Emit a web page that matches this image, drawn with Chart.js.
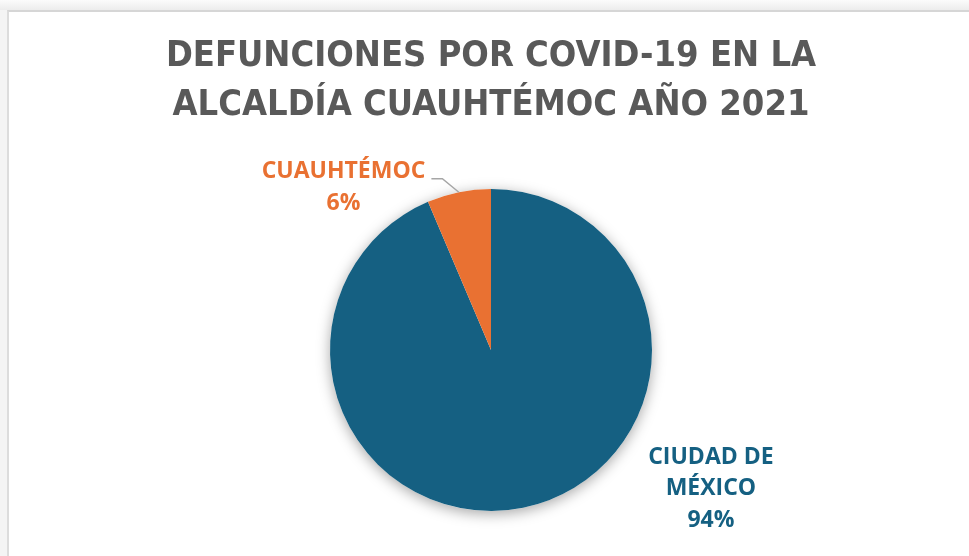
<!DOCTYPE html>
<html>
<head>
<meta charset="utf-8">
<script src="https://cdn.jsdelivr.net/npm/chart.js@4/dist/chart.umd.min.js"></script>
<style>
  html, body { margin: 0; padding: 0; }
  body { width: 969px; height: 556px; position: relative; overflow: hidden; background: #f4f4f4; }
  #band { position: absolute; left: 0; top: 0; width: 969px; height: 10px; background: linear-gradient(#fbfbfb, #ececec); }
  #frame { position: absolute; left: 7px; top: 10px; width: 980px; height: 560px; background: #ffffff;
           border-top: 2px solid #d6d6d6; border-left: 2px solid #dcdcdc; }
  #c { position: absolute; left: 0; top: 0; }
</style>
</head>
<body>
<div id="band"></div>
<div id="frame"></div>
<canvas id="c" width="969" height="556"></canvas>
<script>
// ---- data ----
const titleLines = ['DEFUNCIONES POR COVID-19 EN LA', 'ALCALDÍA CUAUHTÉMOC AÑO 2021'];
const categories = ['CIUDAD DE MÉXICO', 'CUAUHTÉMOC'];
const shares = [93.6, 6.4];
const sliceColors = ['#156082', '#E97132'];

const labelFont = "700 23px 'Open Sans', 'DejaVu Sans', sans-serif";

function wrap(ctx, text, maxW) {
  const words = text.split(' ');
  const lines = [];
  let cur = '';
  for (const w of words) {
    const t = cur ? cur + ' ' + w : w;
    if (cur && ctx.measureText(t).width > maxW) { lines.push(cur); cur = w; }
    else cur = t;
  }
  if (cur) lines.push(cur);
  return lines;
}

const shadowPlugin = {
  id: 'pieShadow',
  beforeDatasetsDraw(chart) {
    const arc = chart.getDatasetMeta(0).data[0];
    if (!arc) return;
    const ctx = chart.ctx;
    ctx.save();
    ctx.beginPath();
    ctx.arc(arc.x, arc.y, arc.outerRadius, 0, Math.PI * 2);
    ctx.fillStyle = '#ffffff';
    ctx.shadowColor = 'rgba(0,0,0,0.35)';
    ctx.shadowBlur = 14;
    ctx.shadowOffsetY = 3;
    ctx.fill();
    ctx.restore();
  }
};

const labelPlugin = {
  id: 'sliceLabels',
  afterDatasetsDraw(chart, args, opts) {
    const meta = chart.getDatasetMeta(0);
    const ctx = chart.ctx;
    const total = shares.reduce((a, b) => a + b, 0);
    ctx.save();
    ctx.font = labelFont;
    ctx.textAlign = 'center';
    ctx.textBaseline = 'middle';
    meta.data.forEach((arc, i) => {
      const r = arc.outerRadius;
      const place = opts.placement[i];
      const cx = arc.x + place[0] * r;
      const cy = arc.y + place[1] * r;
      const lines = wrap(ctx, categories[i], 175);
      lines.push(Math.round(shares[i] / total * 100) + '%');
      const lh = 31.5;
      const top = cy - (lines.length - 1) * lh / 2;
      ctx.fillStyle = sliceColors[i];
      let maxW = 0;
      lines.forEach((ln, k) => {
        ctx.fillText(ln, cx, top + k * lh);
        maxW = Math.max(maxW, ctx.measureText(ln).width);
      });
      if (opts.leader[i]) {
        const mid = (arc.startAngle + arc.endAngle) / 2;
        const ex = arc.x + Math.cos(mid) * r;
        const ey = arc.y + Math.sin(mid) * r;
        const sx = cx + maxW / 2 + 6;
        const sy = top + 7;
        ctx.strokeStyle = '#a6a6a6';
        ctx.lineWidth = 1.5;
        ctx.beginPath();
        ctx.moveTo(sx, sy);
        ctx.lineTo(sx + 11, sy);
        ctx.lineTo(ex, ey);
        ctx.stroke();
      }
    });
    ctx.restore();
  }
};

new Chart(document.getElementById('c'), {
  type: 'pie',
  data: {
    labels: categories,
    datasets: [{
      data: shares,
      backgroundColor: sliceColors,
      borderWidth: 0
    }]
  },
  plugins: [shadowPlugin, labelPlugin],
  options: {
    responsive: false,
    animation: false,
    layout: { padding: { left: 13, right: 0, top: 0, bottom: 45 } },
    plugins: {
      legend: { display: false },
      tooltip: { enabled: false },
      title: {
        display: true,
        text: titleLines,
        color: '#595959',
        font: { family: "'DejaVu Sans Condensed', 'Liberation Sans Narrow', 'DejaVu Sans', sans-serif", size: 36, weight: 'bold', lineHeight: 1.375 },
        padding: { top: 31.5, bottom: 58.5 }
      },
      sliceLabels: {
        placement: [[1.366, 0.86], [-0.916, -1.01]],
        leader: [false, true]
      }
    }
  }
});
</script>
</body>
</html>
